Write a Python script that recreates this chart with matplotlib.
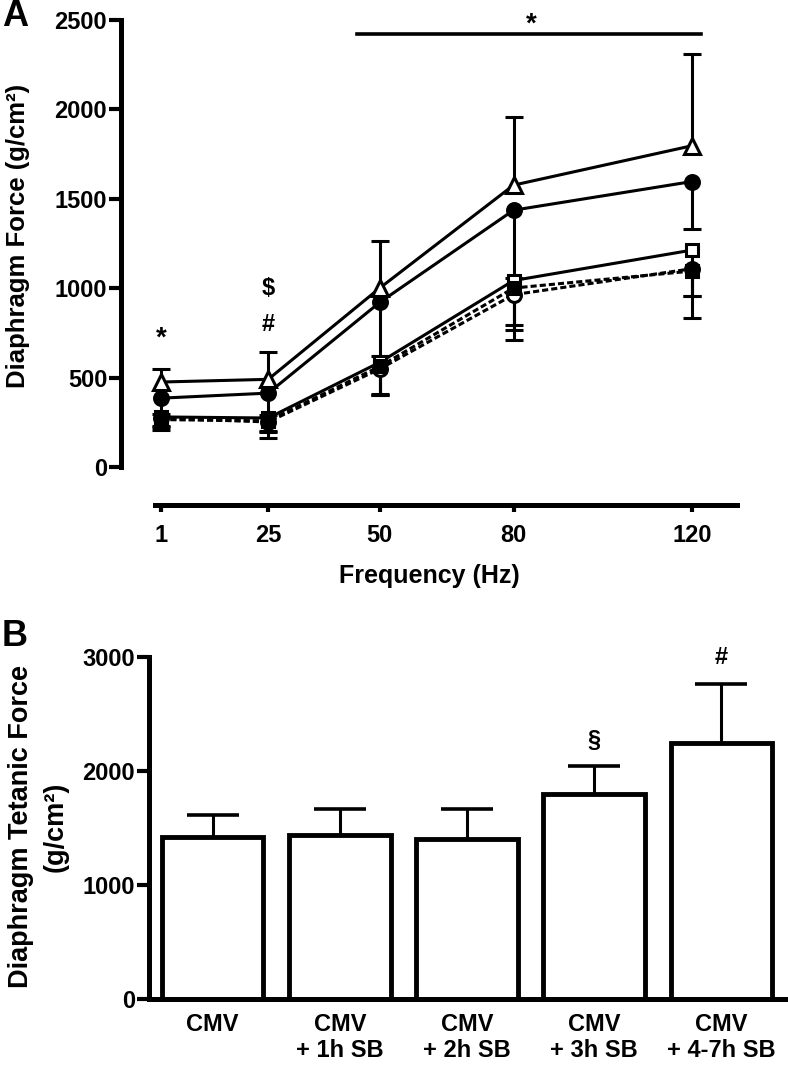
import numpy as np
import matplotlib
matplotlib.use("Agg")
import matplotlib.pyplot as plt

plt.rcParams['font.family'] = ['Liberation Sans', 'DejaVu Sans']
plt.rcParams['font.weight'] = 'bold'
plt.rcParams['axes.labelweight'] = 'bold'

# ---- Panel A data: force-frequency (g/cm2)
freq = [1, 25, 50, 80, 120]

tri_mean = [475, 490, 1000, 1575, 1795]
tri_err_up = [75, 150, 265, 380, 515]

circ_mean = [385, 413, 920, 1435, 1595]
circ_err_dn = [90, 120, 300, 380, 265]

sq_mean = [280, 274, 585, 1042, 1212]
sq_err_dn = [55, 78, 185, 249, 257]

dsq_mean = [265, 258, 562, 1000, 1095]
dsq_err_dn = [60, 96, 160, 290, 263]

dci_mean = [272, 252, 548, 963, 1108]
dci_err_dn = [40, 50, 140, 200, 150]

# ---- Panel B data: tetanic force
groups = ["CMV", "CMV\n+ 1h SB", "CMV\n+ 2h SB", "CMV\n+ 3h SB", "CMV\n+ 4-7h SB"]
tet_mean = [1418, 1436, 1401, 1795, 2242]
tet_err = [193, 228, 263, 245, 525]
tet_marks = ["", "", "", "\u00a7", "#"]

fig = plt.figure(figsize=(7.88, 10.69), dpi=100)


def series(ax, y, err, up, marker, filled, ls, ms):
    zeros = np.zeros(len(y))
    yerr = [zeros, err] if up else [err, zeros]
    line, caps, bars = ax.errorbar(freq, y, yerr=yerr, marker=marker, ms=ms,
                                   mfc='black' if filled else 'white', mec='black', mew=2.2,
                                   color='black', lw=2.2, ls=ls, ecolor='black',
                                   elinewidth=2.2, capsize=6.5, capthick=2.5, clip_on=False)
    # only one-sided error bars
    caps[0 if up else 1].set_visible(False)
    for c in caps:
        c.set_clip_on(False)


# ---------- Panel A
axA = fig.add_axes([0.1536, 0.5631, 0.7817, 0.4186])
dash = (0, (2, 1))
series(axA, sq_mean, sq_err_dn, False, 's', False, '-', 9)
series(axA, dci_mean, dci_err_dn, False, 'o', False, dash, 10)
series(axA, dsq_mean, dsq_err_dn, False, 's', True, dash, 9)
series(axA, circ_mean, circ_err_dn, False, 'o', True, '-', 10)
series(axA, tri_mean, tri_err_up, True, '^', False, '-', 11.5)

axA.set_xlim(-8, 130.1)
axA.set_ylim(0, 2500)
axA.set_yticks([0, 500, 1000, 1500, 2000, 2500])
axA.set_xticks(freq)
axA.spines['top'].set_visible(False)
axA.spines['right'].set_visible(False)
axA.spines['left'].set_linewidth(3.6)
axA.spines['bottom'].set_linewidth(3.6)
axA.spines['bottom'].set_position(('outward', 27))
axA.spines['bottom'].set_bounds(-0.3, 130.1)
axA.tick_params(axis='y', length=9, width=3, labelsize=17, pad=1)
axA.tick_params(axis='x', length=5, width=3, labelsize=17, pad=9)
axA.set_xlabel("Frequency (Hz)", fontsize=18, labelpad=12)

axA.text(1, 715, "*", ha='center', va='center', fontsize=20)
axA.text(25, 795, "#", ha='center', va='center', fontsize=17)
axA.text(25, 1000, "$", ha='center', va='center', fontsize=17)
axA.plot([45, 122], [2420, 2420], color='black', lw=2.6, clip_on=False)
axA.text(84, 2470, "*", ha='center', va='center', fontsize=20, clip_on=False)

fig.text(0.023, 0.779, "Diaphragm Force (g/cm\u00b2)", rotation=90, ha='center', va='center',
         fontsize=18.5)
fig.text(0.019, 0.985, "A", ha='center', va='center', fontsize=26)

# ---------- Panel B
axB = fig.add_axes([0.1891, 0.0655, 0.8071, 0.3199])
xb = np.arange(len(groups))
axB.bar(xb, tet_mean, width=0.8, color='white', edgecolor='black', lw=3.5, zorder=2)
_, capsB, _ = axB.errorbar(xb, tet_mean, yerr=[np.zeros(len(xb)), tet_err], fmt='none',
                           ecolor='black', elinewidth=2.2, capsize=18.5, capthick=2.6, zorder=1)
capsB[0].set_visible(False)
for x, m, e, s in zip(xb, tet_mean, tet_err, tet_marks):
    if s:
        axB.text(x, m + e + 230, s, ha='center', va='center', fontsize=17)

axB.set_xlim(-0.5, 4.5)
axB.set_ylim(0, 3000)
axB.set_yticks([0, 1000, 2000, 3000])
axB.set_xticks(xb)
axB.set_xticklabels(groups, fontsize=17, linespacing=1.2)
axB.spines['top'].set_visible(False)
axB.spines['right'].set_visible(False)
axB.spines['left'].set_linewidth(3.6)
axB.spines['bottom'].set_linewidth(3.6)
axB.tick_params(axis='y', length=9, width=3, labelsize=17, pad=1)
axB.tick_params(axis='x', length=0, pad=10)

fig.text(0.049, 0.2265, "Diaphragm Tetanic Force\n(g/cm\u00b2)", rotation=90, ha='center',
         va='center', multialignment='center', fontsize=19.5, linespacing=1.45)
fig.text(0.019, 0.405, "B", ha='center', va='center', fontsize=26)

fig.savefig("out.png", dpi=100)
